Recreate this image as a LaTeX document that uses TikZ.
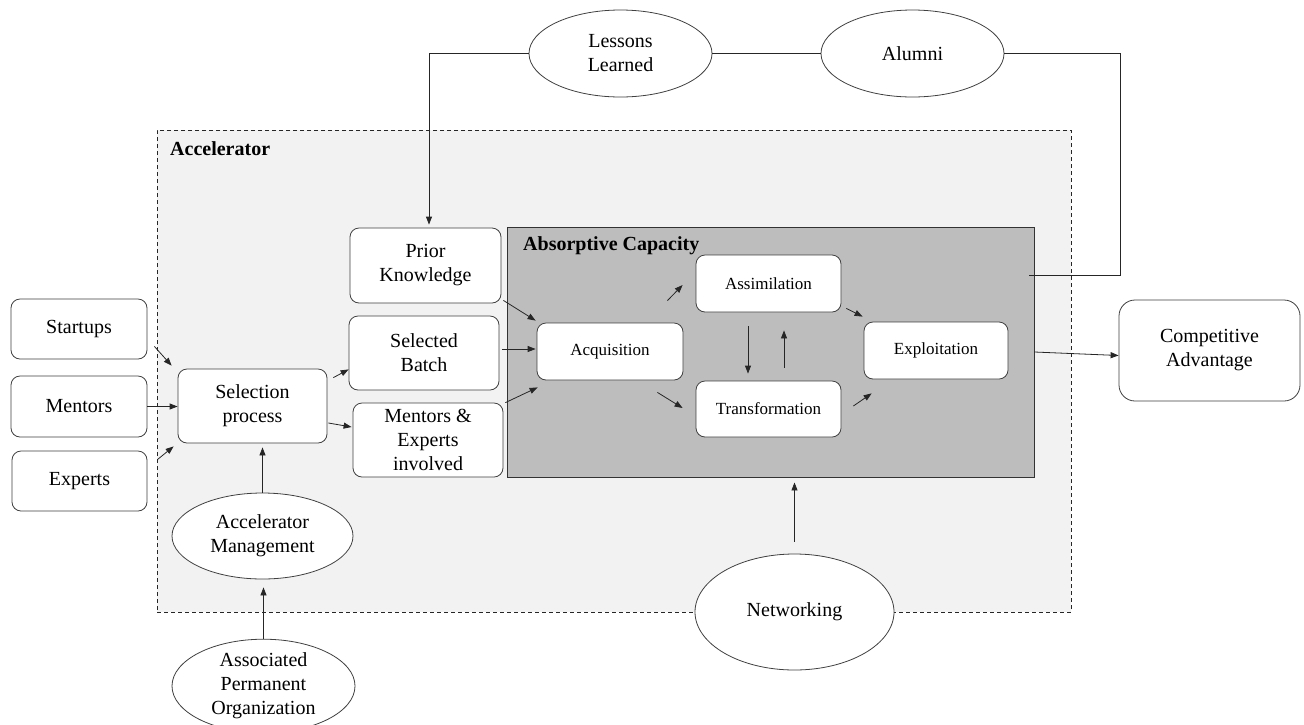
\documentclass[tikz,border=0pt]{standalone}
\usepackage{fontspec}
\setmainfont{Liberation Serif}
\usetikzlibrary{shapes.geometric,arrows.meta,calc}
\begin{document}
\begin{tikzpicture}[x=1pt,y=-1pt,
  font=\fontsize{20}{24}\selectfont,
  line/.style={draw=black!85, line width=0.8pt},
  arr/.style={line, -{Triangle[length=8pt,width=6pt]}},
  rbox/.style={draw=black!75, line width=0.8pt, fill=white, rounded corners=9pt,
     inner sep=0pt, align=center},
  ibox/.style={rbox, font=\fontsize{17}{20}\selectfont},
  oval/.style={ellipse, draw=black!75, line width=0.8pt, fill=white, inner sep=0pt, align=center},
  region/.style={rectangle, inner sep=0pt},
  title/.style={anchor=base west, inner sep=0pt, font=\fontsize{20}{24}\selectfont\bfseries}
]
\useasboundingbox (0,0) rectangle (1304,724);
\fill[white] (0,0) rectangle (1304,724);

% regions
\node[region, draw=black!85, dash pattern=on 4pt off 3pt, line width=0.8pt, fill=black!5,
      minimum width=914, minimum height=482] (accel) at (614,371) {};
\node[region, draw=black!80, line width=0.9pt, fill=black!26,
      minimum width=527, minimum height=250] (absorb) at (770.5,352) {};
\node[title] (acceltitle) at (170,155) {Accelerator};
\node[title] (abstitle) at (523,250) {Absorptive Capacity};

% ellipses
\node[oval, minimum width=183, minimum height=87] (lessons) at (620.5,53.5) {Lessons\\Learned};
\node[oval, minimum width=183, minimum height=87] (alumni) at (912.5,53.5) {Alumni};
\node[oval, minimum width=181, minimum height=86] (mgmt) at (262.5,536) {Accelerator\\Management};
\node[oval, minimum width=183, minimum height=86] (assoc) at (263.5,686) {Associated\\Permanent\\Organization};
\node[oval, minimum width=199, minimum height=116] (net) at (794.5,612) {Networking};

% boxes
\node[rbox, minimum width=136, minimum height=60] (startups) at (79,329) {Startups};
\node[rbox, minimum width=136, minimum height=61] (mentors) at (79,406.5) {Mentors};
\node[rbox, minimum width=135, minimum height=60] (experts) at (79.5,481) {Experts};
\node[rbox, minimum width=149, minimum height=74] (sel) at (252.5,406) {Selection\\process};
\node[rbox, minimum width=151, minimum height=75] (prior) at (425.5,265.5) {Prior\\Knowledge};
\node[rbox, minimum width=150, minimum height=74] (batch) at (424,353) {Selected\\Batch};
\node[rbox, minimum width=150, minimum height=74] (me) at (428,440) {Mentors \&\\Experts\\involved};
\node[ibox, minimum width=146, minimum height=57] (acq) at (610,351.5) {Acquisition};
\node[ibox, minimum width=145, minimum height=57] (assim) at (768.5,283.5) {Assimilation};
\node[ibox, minimum width=145, minimum height=56] (transf) at (768.5,409) {Transformation};
\node[ibox, minimum width=144, minimum height=57] (expl) at (936,350.5) {Exploitation};
\node[rbox, rounded corners=16pt, minimum width=181, minimum height=101] (comp) at (1209.5,350.5) {Competitive\\Advantage};

% connectors
\draw[arr] ($(startups.south east)+(7,-13)$) -- ($(sel.north west)+(-6,-3)$);
\draw[arr] (mentors.east) -- (mentors.east -| sel.west);
\draw[arr] ($(experts.north east)+(10,9)$) -- ($(sel.south west)+(-4,3)$);
\draw[arr] ($(sel.north east)+(6,9)$) -- ($(batch.south west)+(0,-21)$);
\draw[arr] ($(sel.east)+(1,17)$) -- ($(me.west)+(-1,-13)$);
\draw[arr] ($(prior.south east)+(2,-3)$) -- ($(acq.north west)+(-1,-2)$);
\draw[arr] ($(batch.east)+(3,-4)$) -- ($(acq.west)+(-1,-2.5)$);
\draw[arr] ($(me.north east)+(2,0)$) -- ($(acq.south west)+(1,7)$);
\draw[arr] ($(acq.north east)+(-16,-22)$) -- ($(assim.west)+(-13,1.5)$);
\draw[arr] ($(acq.south east)+(-26,12)$) -- ($(transf.west)+(-13,-1)$);
\draw[arr] ($(assim.south)+(-20.5,14)$) -- ($(transf.north)+(-20.5,-7)$);
\draw[arr] ($(transf.north)+(15.5,-13)$) -- ($(assim.south)+(15.5,18)$);
\draw[arr] ($(assim.south east)+(5,-4)$) -- ($(expl.north west)+(-1,-5)$);
\draw[arr] ($(transf.east)+(12,-3)$) -- ($(expl.south west)+(8,14)$);
\draw[arr] (absorb.east) -- ($(comp.west)+(0,5)$);
\draw[arr] ($(net.north)+(0,-12)$) -- ($(net.north |- absorb.south)+(0,5)$);
\draw[arr] (mgmt.north) -- ($(mgmt.north |- sel.south)+(0,4)$);
\draw[arr] (assoc.north) -- ($(assoc.north |- mgmt.south)+(0,8)$);
\draw[arr] (lessons.west) -| ($(prior.north)+(3.5,-3)$);
\draw[line] (lessons.east) -- (alumni.west);
\coordinate (abR) at (1120,275);
\draw[line] (alumni.east) -| (abR) -- ($(abR -| absorb.east)+(-5,0)$);
\end{tikzpicture}
\end{document}
